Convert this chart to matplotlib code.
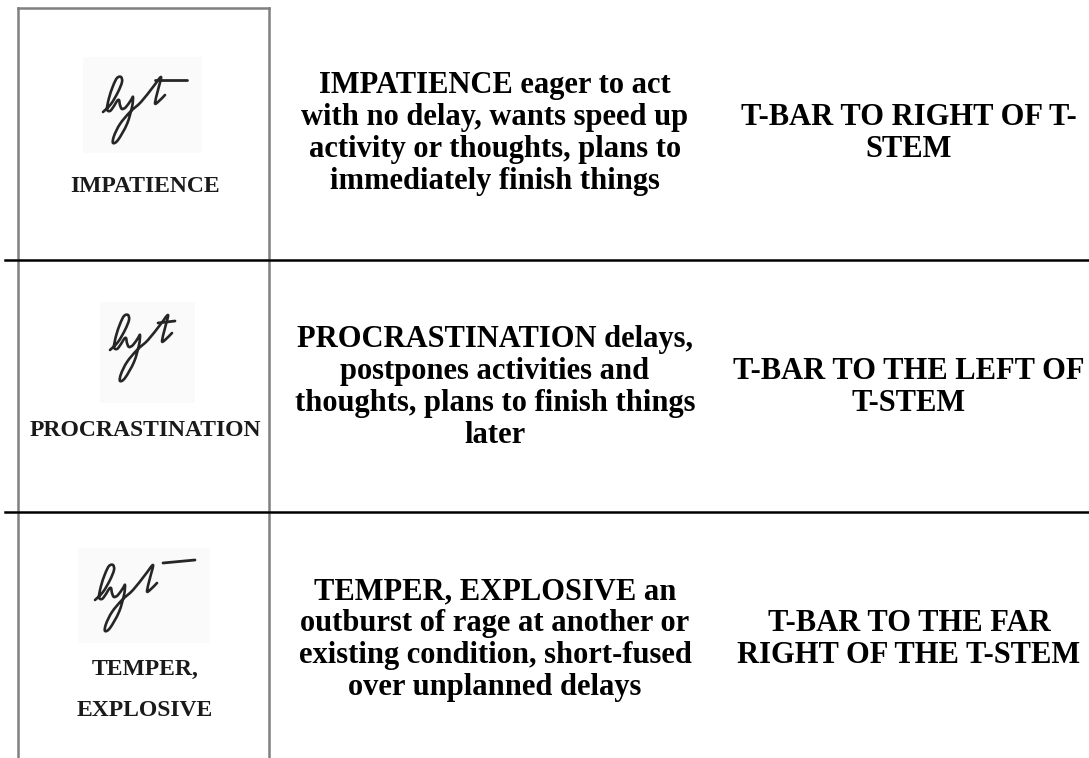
import matplotlib.pyplot as plt
import numpy as np
from matplotlib.path import Path
from matplotlib.patches import PathPatch, Rectangle

# Table content
labels = [["IMPATIENCE"], ["PROCRASTINATION"], ["TEMPER,", "EXPLOSIVE"]]
meanings = [
    ["IMPATIENCE eager to act", "with no delay, wants speed up",
     "activity or thoughts, plans to", "immediately finish things"],
    ["PROCRASTINATION delays,", "postpones activities and",
     "thoughts, plans to finish things", "later"],
    ["TEMPER, EXPLOSIVE an", "outburst of rage at another or",
     "existing condition, short-fused", "over unplanned delays"],
]
traits = [
    ["T-BAR TO RIGHT OF T-", "STEM"],
    ["T-BAR TO THE LEFT OF", "T-STEM"],
    ["T-BAR TO THE FAR", "RIGHT OF THE T-STEM"],
]

# handwriting sample "lyt" (pixel offsets from the start of the l, y down)
lyt_stroke = [(0, 0), (8, -8), (15, -20), (19, -30), (18, -35), (14, -34),
              (10, -26), (6, -14), (4, -3), (7, -1), (11, -6), (14, -11),
              (16, -12), (17, -7), (19, -3), (23, -5), (28, -12), (30, -15),
              (29, -5), (24, 12), (15, 28), (10, 31), (11, 24), (17, 12),
              (27, 0), (38, -10), (50, -25), (58, -35), (55, -22), (52, -9),
              (55, -10), (62, -17)]
sample_start = [(103, 112), (110, 350), (95, 600)]
tbar = [[(52, -32), (84, -32)], [(48, -27), (65, -29)], [(68, -37), (100, -40)]]
sample_bg = [(83, 57, 119, 96), (100, 302, 95, 101), (78, 548, 132, 95)]

row_top = [8, 262, 514]
row_bottom = [258, 510, 758]
rule_y = [260, 512]
label_base = [[191.5], [436.5], [674.5, 715.5]]


def smooth_path(pts):
    # Catmull-Rom waypoints turned into cubic Bezier segments
    p = np.array(pts, dtype=float)
    p = np.vstack([p[0], p, p[-1]])
    verts = [p[1]]
    codes = [Path.MOVETO]
    for i in range(1, len(p) - 2):
        c1 = p[i] + (p[i + 1] - p[i - 1]) / 6
        c2 = p[i + 1] - (p[i + 2] - p[i]) / 6
        verts += [c1, c2, p[i + 1]]
        codes += [Path.CURVE4] * 3
    return Path(verts, codes)


fig = plt.figure(figsize=(10.89, 7.58), dpi=100)
ax = fig.add_axes([0, 0, 1, 1])
ax.set_xlim(0, 1089)
ax.set_ylim(758, 0)
ax.axis("off")

serif = "Liberation Serif"

for r in range(3):
    # image frame on the left
    top, bot = row_top[r], row_bottom[r]
    ax.plot([18, 18], [top, bot], color="#808080", lw=1.8)
    ax.plot([269, 269], [top, bot], color="#808080", lw=1.8)
    if r == 0:
        ax.plot([18, 269], [top, top], color="#808080", lw=1.8)

    bx, by, bw, bh = sample_bg[r]
    ax.add_patch(Rectangle((bx, by), bw, bh, color="#fafafa", lw=0))

    sx, sy = sample_start[r]
    pts = [(sx + x, sy + y) for x, y in lyt_stroke]
    ax.add_patch(PathPatch(smooth_path(pts), fill=False, ec="#262626",
                           lw=1.9, capstyle="round", joinstyle="round"))
    (x0, y0), (x1, y1) = tbar[r]
    ax.plot([sx + x0, sx + x1], [sy + y0, sy + y1], color="#262626",
            lw=2.0, solid_capstyle="round")

    for txt, yb in zip(labels[r], label_base[r]):
        ax.text(145, yb, txt, ha="center", va="baseline", family=serif,
                weight="bold", fontsize=17, color="#1a1a1a")

    base = top + 85
    for i, line in enumerate(meanings[r]):
        ax.text(495, base + 32 * i, line, ha="center", va="baseline",
                family=serif, weight="bold", fontsize=22, color="black")
    for i, line in enumerate(traits[r]):
        ax.text(909, base + 32 * (i + 1), line, ha="center", va="baseline",
                family=serif, weight="bold", fontsize=22, color="black")

for y in rule_y:
    ax.plot([5, 1089], [y, y], color="black", lw=1.8)

fig.savefig("out.png", dpi=100)
